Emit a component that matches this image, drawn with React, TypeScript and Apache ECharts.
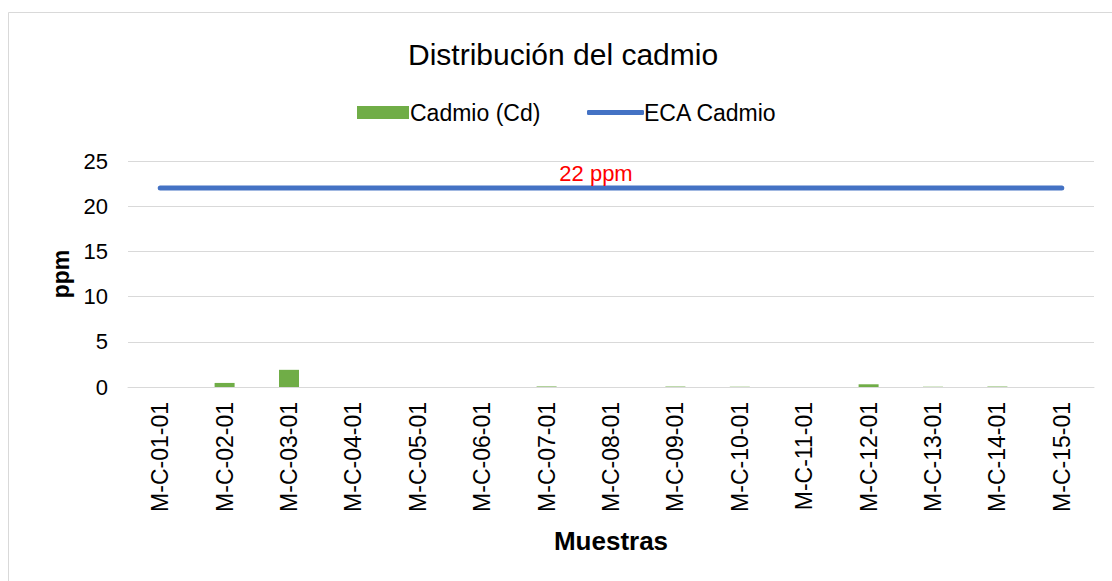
import React, { useEffect, useRef } from "react";
import * as echarts from "echarts";

const categories = [
  "M-C-01-01", "M-C-02-01", "M-C-03-01", "M-C-04-01", "M-C-05-01",
  "M-C-06-01", "M-C-07-01", "M-C-08-01", "M-C-09-01", "M-C-10-01",
  "M-C-11-01", "M-C-12-01", "M-C-13-01", "M-C-14-01", "M-C-15-01",
];
const cadmio = [0, 0.45, 1.9, 0, 0, 0, 0.06, 0, 0.05, 0.03, 0, 0.3, 0.03, 0.05, 0];
const ecaCadmio = [22, 22, 22, 22, 22, 22, 22, 22, 22, 22, 22, 22, 22, 22, 22];
const yTicks = { min: 0, max: 25, interval: 5 };
const labelIndex = 7;
const FONT = "'Liberation Sans', Arial, sans-serif";

export default function App() {
  const ref = useRef<HTMLDivElement>(null);
  useEffect(() => {
    if (!ref.current) return;
    const chart = echarts.init(ref.current, null, { renderer: "svg" });
    chart.setOption({
      animation: false,
      backgroundColor: "#ffffff",
      textStyle: { fontFamily: FONT },
      title: {
        text: "Distribución del cadmio",
        left: 403,
        top: 34,
        textStyle: { fontFamily: FONT, fontSize: 30, fontWeight: "normal", color: "#000" },
      },
      legend: [
        {
          left: 352,
          top: 96,
          itemWidth: 52,
          itemHeight: 13,
          icon: "rect",
          textStyle: { fontFamily: FONT, fontSize: 23, color: "#000", padding: [0, 0, 0, -4] },
          data: ["Cadmio (Cd)"],
        },
        {
          left: 582,
          top: 96,
          itemWidth: 57,
          itemHeight: 5,
          icon: "roundRect",
          textStyle: { fontFamily: FONT, fontSize: 23, color: "#000", padding: [0, 0, 0, -5] },
          data: ["ECA Cadmio"],
        },
      ],
      grid: { left: 128, right: 18, top: 161, bottom: 194 },
      xAxis: {
        type: "category",
        data: categories,
        name: "Muestras",
        nameLocation: "middle",
        nameGap: 141,
        nameTextStyle: { fontFamily: FONT, fontSize: 26, fontWeight: "bold", color: "#000" },
        axisLine: { lineStyle: { color: "#d9d9d9", width: 1 } },
        axisTick: { show: false },
        axisLabel: { rotate: 90, margin: 15, fontFamily: FONT, fontSize: 23, color: "#000", interval: 0 },
      },
      yAxis: {
        type: "value",
        min: yTicks.min,
        max: yTicks.max,
        interval: yTicks.interval,
        name: "ppm",
        nameLocation: "middle",
        nameGap: 56,
        nameTextStyle: { fontFamily: FONT, fontSize: 23, fontWeight: "bold", color: "#000" },
        axisLine: { show: false },
        axisTick: { show: false },
        axisLabel: { margin: 20, fontFamily: FONT, fontSize: 22, color: "#000" },
        splitLine: { lineStyle: { color: "#d9d9d9", width: 1 } },
      },
      series: [
        {
          name: "Cadmio (Cd)",
          type: "bar",
          data: cadmio,
          barWidth: 20,
          itemStyle: { color: "#70AD47" },
        },
        {
          name: "ECA Cadmio",
          type: "line",
          data: ecaCadmio.map((v, i) =>
            i === labelIndex
              ? {
                  value: v,
                  label: {
                    show: true,
                    position: "top",
                    distance: 3,
                    offset: [-15, 0],
                    formatter: "22 ppm",
                    fontFamily: FONT,
                    fontSize: 22,
                    color: "#ff0000",
                  },
                }
              : v
          ),
          symbol: "circle",
          symbolSize: 1,
          showSymbol: true,
          lineStyle: { color: "#4472C4", width: 5, cap: "round" },
          itemStyle: { color: "#4472C4" },
        },
      ],
      graphic: [
        {
          type: "rect",
          shape: { x: 8.5, y: 12.5, width: 1200, height: 1000 },
          style: { fill: "none", stroke: "#d9d9d9", lineWidth: 1 },
          silent: true,
          z: 100,
        },
      ],
    });
    return () => chart.dispose();
  }, []);
  return (
    <div
      ref={ref}
      style={{ position: "fixed", left: 0, top: 0, width: 1112, height: 581 }}
    />
  );
}
